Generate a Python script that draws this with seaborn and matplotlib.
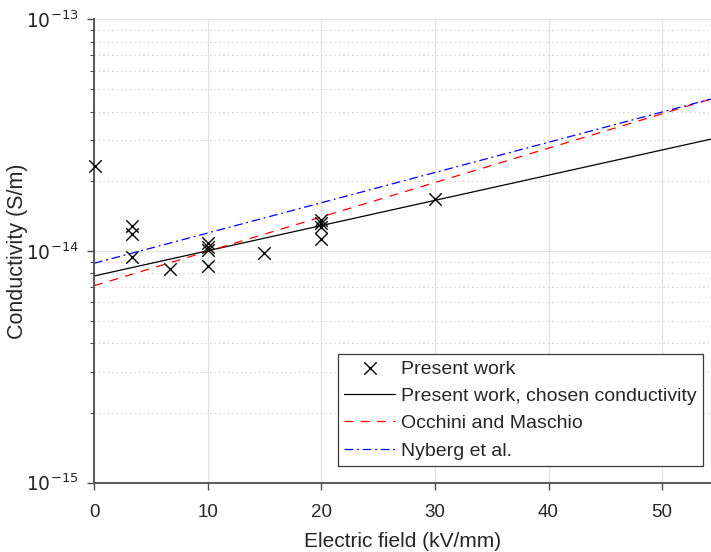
import matplotlib
matplotlib.use("Agg")
import matplotlib.pyplot as plt
import seaborn as sns
import numpy as np
import pandas as pd
from matplotlib.ticker import FixedLocator, NullFormatter

# --- data ---
field_meas = [0.1, 3.33, 3.33, 3.33, 6.67, 10, 10, 10, 10, 15, 20, 20, 20, 20, 30]
cond_meas = [2.33e-14, 1.28e-14, 1.18e-14, 0.94e-14, 0.84e-14,
             1.08e-14, 1.04e-14, 1.01e-14, 0.86e-14, 0.98e-14,
             1.36e-14, 1.32e-14, 1.27e-14, 1.13e-14, 1.68e-14]

line_field = [0.0, 54.3]
chosen_cond = [0.78e-14, 3.04e-14]
occhini_cond = [0.708e-14, 4.53e-14]
nyberg_cond = [0.885e-14, 4.53e-14]

x_ticks = [0, 10, 20, 30, 40, 50]
y_ticks = [1e-15, 1e-14, 1e-13]
y_tick_labels = [r"$10^{-15}$", r"$10^{-14}$", r"$10^{-13}$"]

sns.set_style("white")
plt.rcParams['font.family'] = ['Liberation Sans', 'DejaVu Sans']

fig = plt.figure(figsize=(7.11, 5.52), dpi=100)
ax = fig.add_axes([94/711, 1-482.7/552, 1-94/711, (482.7-19.3)/552])

meas = pd.DataFrame({"E": field_meas, "s": cond_meas})
sns.scatterplot(data=meas, x="E", y="s", marker="x", s=80, color="black",
                linewidth=1.0, ax=ax, label="Present work", zorder=5)
for coll in ax.collections:
    coll.set_clip_on(False)
sns.lineplot(x=line_field, y=chosen_cond, color="black", linewidth=0.9, ax=ax,
             label="Present work, chosen conductivity")
sns.lineplot(x=line_field, y=occhini_cond, color="red", linewidth=0.9, ax=ax,
             label="Occhini and Maschio")
ax.lines[-1].set_linestyle((0, (7, 6)))
sns.lineplot(x=line_field, y=nyberg_cond, color="blue", linewidth=0.9, ax=ax,
             label="Nyberg et al.")
ax.lines[-1].set_linestyle((0, (7, 3, 1.5, 3)))

ax.set_yscale("log")
ax.set_xlim(0, 54.3)
ax.set_ylim(1e-15, 1e-13)
ax.set_xticks(x_ticks)
ax.set_yticks(y_ticks)
ax.set_yticklabels(y_tick_labels)
minor = [m * d for d in (1e-15, 1e-14) for m in range(2, 10)]
ax.yaxis.set_minor_locator(FixedLocator(minor))
ax.yaxis.set_minor_formatter(NullFormatter())

ax.grid(True, which="major", color="#e3e3e3", linewidth=0.9, linestyle="-")
ax.grid(True, which="minor", axis="y", color="#c8c8c8", linewidth=0.8, linestyle=(0, (1, 3)))
ax.set_axisbelow(True)

for side in ["top", "right"]:
    ax.spines[side].set_visible(False)
for side in ["left", "bottom"]:
    ax.spines[side].set_color("#4d4d4d")
    ax.spines[side].set_linewidth(1.3)

ax.tick_params(axis="both", which="major", direction="out", length=5, width=1,
               color="#4d4d4d", labelsize=13.5, labelcolor="#262626", left=True, bottom=True)
ax.tick_params(axis="x", which="major", pad=10)
ax.tick_params(axis="y", which="major", pad=6)
ax.tick_params(axis="y", which="minor", direction="out", length=3, width=0.8,
               color="#4d4d4d", left=True)

ax.set_xlabel("Electric field (kV/mm)", fontsize=15, color="#262626", labelpad=8)
ax.set_ylabel("Conductivity (S/m)", fontsize=15.5, color="#262626")
ax.yaxis.set_label_coords(-0.107, 0.5)

leg = ax.legend(loc="lower right", bbox_to_anchor=(0.9865, 0.036), borderaxespad=0,
                fontsize=14, frameon=True, fancybox=False, edgecolor="#3a3a3a",
                handlelength=2.6, handletextpad=0.3, labelspacing=0.5,
                borderpad=0.33, framealpha=1)
leg.get_frame().set_linewidth(0.9)

fig.savefig("out.png", dpi=100)
